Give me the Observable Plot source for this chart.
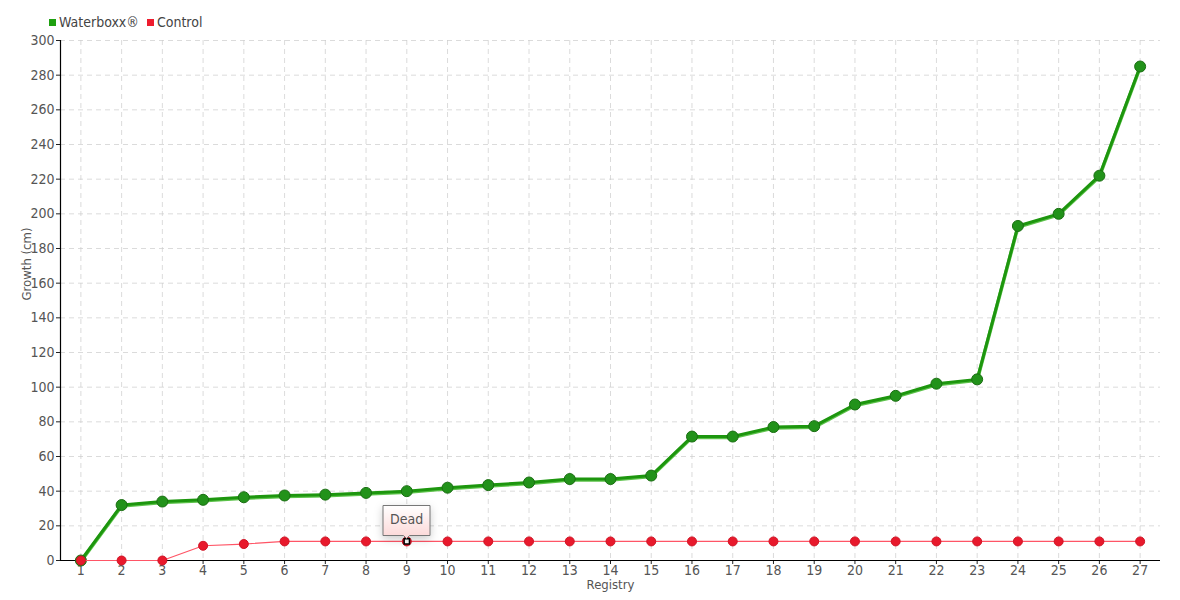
<!DOCTYPE html>
<html>
<head>
<meta charset="utf-8">
<script src="https://cdn.jsdelivr.net/npm/d3@7"></script>
<script src="https://cdn.jsdelivr.net/npm/@observablehq/plot@0.6"></script>
<style>
  body { margin: 0; background: #fff; font-family: "DejaVu Sans Condensed", "Liberation Sans Narrow", sans-serif; }
  #legend { height: 30px; display: flex; align-items: flex-end; padding-left: 49px; font-size: 14px; color: #444; }
  #legend span.sw { display: inline-block; width: 7px; height: 7px; margin-right: 3px; }
  #legend .item { margin-right: 8px; display: flex; align-items: center; }
</style>
</head>
<body>
<div id="legend"></div>
<div id="chart"></div>
<script>
const registry = d3.range(1, 28);
const waterboxx = [0, 32, 34, 35, 36.5, 37.5, 38, 39, 40, 42, 43.5, 45, 47, 47, 49, 71.5, 71.5, 77, 77.5, 90, 95, 102, 104.5, 193, 200, 222, 285];
const control = [0, 0, 0, 8.5, 9.5, 11, 11, 11, 11, 11, 11, 11, 11, 11, 11, 11, 11, 11, 11, 11, 11, 11, 11, 11, 11, 11, 11];
const seriesNames = ["Waterboxx®", "Control"];
const seriesColors = ["#1ea010", "#ee1c2e"];
const yTicks = d3.range(0, 301, 20);
const noteIndex = 9;
const noteText = "Dead";

const wData = registry.map((r, i) => ({x: r, y: waterboxx[i]}));
const cData = registry.map((r, i) => ({x: r, y: control[i]}));
const note = [{x: noteIndex, y: control[noteIndex - 1], text: noteText}];

const legend = d3.select("#legend");
seriesNames.forEach((n, i) => {
  const it = legend.append("div").attr("class", "item");
  it.append("span").attr("class", "sw").style("background", seriesColors[i]);
  it.append("span").text(n);
});

const plot = Plot.plot({
  width: 1180,
  height: 570,
  marginTop: 10,
  marginLeft: 60,
  marginRight: 20,
  marginBottom: 40,
  style: {fontFamily: "'DejaVu Sans Condensed', 'Liberation Sans Narrow', sans-serif", fontSize: "13px", color: "#555"},
  x: {domain: [0.5, 27.5], ticks: registry, tickFormat: d => String(d), label: null},
  y: {domain: [0, 300], ticks: yTicks, label: null},
  marks: [
    Plot.gridX(registry, {stroke: "#ccc", strokeOpacity: 0.7, strokeDasharray: "5,4"}),
    Plot.gridY(yTicks, {stroke: "#ccc", strokeOpacity: 0.7, strokeDasharray: "5,4"}),
    Plot.axisY({ticks: yTicks, tickSize: 4, tickPadding: 2, stroke: "#222", fill: "#555", fontSize: 14}),
    Plot.axisX({ticks: registry, tickSize: 4, tickPadding: 1, stroke: "#222", fill: "#555", fontSize: 14, tickFormat: d => String(d)}),
    Plot.ruleX([0.5], {stroke: "#000", strokeWidth: 1.2}),
    Plot.ruleY([0], {stroke: "#000", strokeWidth: 1.2}),
    Plot.text(["Registry"], {frameAnchor: "bottom", dy: 28, fontSize: 13, fill: "#555"}),
    Plot.text(["Growth (cm)"], {frameAnchor: "left", dx: -34, rotate: -90, fontSize: 13, fill: "#555"}),
    Plot.line(wData, {x: "x", y: "y", stroke: "#5cc24a", strokeWidth: 3.5, dy: 1}),
    Plot.line(wData, {x: "x", y: "y", stroke: "#1d960e", strokeWidth: 3}),
    Plot.dot(wData, {x: "x", y: "y", r: 5.5, fill: "#22921a", stroke: "#1a6e12", strokeWidth: 1}),
    Plot.line(cData, {x: "x", y: "y", stroke: "#ff5566", strokeWidth: 1.2}),
    Plot.dot(cData, {x: "x", y: "y", r: 4.5, fill: "#e8192c", stroke: "#d01425", strokeWidth: 1}),
    Plot.dot(note, {x: "x", y: "y", symbol: "square", r: 3, fill: "#fff", stroke: "#000", strokeWidth: 1.5}),
    Plot.tip(note, {x: "x", y: "y", title: "text", anchor: "bottom", fill: "url(#tipgrad)", stroke: "#777", pointerSize: 6, fontSize: 14, textPadding: 7, dy: -3})
  ]
});
const defs = d3.select(plot).insert("defs", ":first-child");
const g = defs.append("linearGradient").attr("id", "tipgrad").attr("x1", 0).attr("x2", 0).attr("y1", 0).attr("y2", 1);
g.append("stop").attr("offset", "0%").attr("stop-color", "#ffffff");
g.append("stop").attr("offset", "100%").attr("stop-color", "#fcd6d6");
document.getElementById("chart").appendChild(plot);
</script>
</body>
</html>
